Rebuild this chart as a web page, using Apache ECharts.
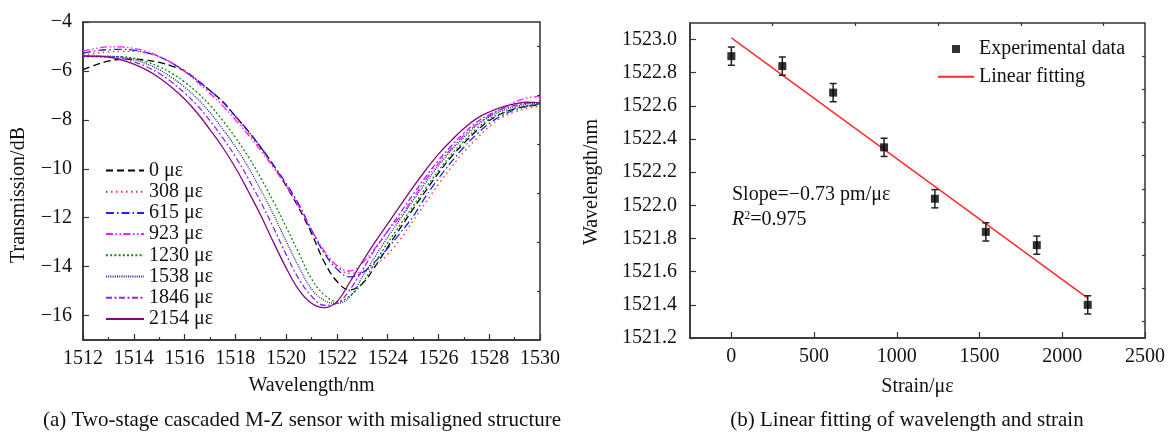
<!DOCTYPE html>
<html>
<head>
<meta charset="utf-8">
<script src="https://cdn.jsdelivr.net/npm/echarts@6/dist/echarts.min.js"></script>
<style>
html,body{margin:0;padding:0;background:#fff;}
#chart{width:1168px;height:434px;}
</style>
</head>
<body>
<div id="chart"></div>
<script>
// (a) transmission spectra, wavelength grid in nm
var wl = [1512,1512.5,1513,1513.5,1514,1514.5,1515,1515.5,1516,1516.5,1517,1517.5,1518,1518.5,1519,1519.5,1520,1520.5,1521,1521.5,1522,1522.5,1523,1523.5,1524,1524.5,1525,1525.5,1526,1526.5,1527,1527.5,1528,1528.5,1529,1529.5,1530];
var t0    = [-5.95,-5.75,-5.60,-5.53,-5.52,-5.56,-5.65,-5.80,-6.00,-6.38,-6.80,-7.25,-7.85,-8.45,-9.12,-9.85,-10.70,-11.60,-12.64,-13.80,-14.60,-14.95,-14.70,-14.00,-13.20,-12.42,-11.65,-10.90,-10.18,-9.52,-8.96,-8.45,-8.03,-7.74,-7.55,-7.44,-7.38];
var t308  = [-5.36,-5.27,-5.22,-5.20,-5.20,-5.27,-5.43,-5.68,-6.00,-6.38,-6.82,-7.30,-7.88,-8.50,-9.18,-9.90,-10.65,-11.50,-12.50,-13.40,-14.00,-14.28,-14.20,-13.95,-13.50,-12.88,-12.13,-11.38,-10.64,-9.95,-9.31,-8.77,-8.28,-7.90,-7.68,-7.52,-7.45];
var t615  = [-5.28,-5.18,-5.13,-5.12,-5.15,-5.25,-5.42,-5.68,-6.00,-6.38,-6.80,-7.25,-7.85,-8.45,-9.12,-9.85,-10.60,-11.45,-12.50,-13.45,-14.10,-14.42,-14.25,-13.80,-13.25,-12.62,-11.95,-11.13,-10.40,-9.73,-9.12,-8.60,-8.15,-7.82,-7.60,-7.44,-7.35];
var t923  = [-5.20,-5.08,-5.02,-5.02,-5.08,-5.20,-5.40,-5.67,-6.02,-6.45,-6.92,-7.42,-8.00,-8.60,-9.25,-9.95,-10.70,-11.55,-12.50,-13.35,-13.95,-14.18,-13.85,-13.25,-12.55,-11.95,-11.20,-10.45,-9.78,-9.18,-8.64,-8.18,-7.85,-7.55,-7.28,-7.10,-7.05];
var t1230 = [-5.42,-5.42,-5.42,-5.42,-5.48,-5.63,-5.83,-6.10,-6.45,-6.88,-7.40,-8.02,-8.72,-9.49,-10.37,-11.34,-12.38,-13.45,-14.50,-15.15,-15.43,-15.20,-14.68,-13.83,-13.03,-12.28,-11.53,-10.78,-10.08,-9.43,-8.87,-8.37,-7.97,-7.72,-7.53,-7.42,-7.38];
var t1538 = [-5.40,-5.40,-5.40,-5.44,-5.55,-5.71,-5.95,-6.27,-6.66,-7.13,-7.70,-8.37,-9.09,-9.92,-10.86,-11.86,-12.96,-14.00,-14.92,-15.38,-15.50,-15.25,-14.43,-13.60,-12.80,-12.05,-11.30,-10.57,-9.88,-9.26,-8.72,-8.24,-7.88,-7.63,-7.46,-7.36,-7.32];
var t1846 = [-5.40,-5.40,-5.42,-5.48,-5.63,-5.83,-6.10,-6.46,-6.90,-7.41,-8.03,-8.73,-9.50,-10.39,-11.36,-12.40,-13.50,-14.50,-15.20,-15.58,-15.50,-14.96,-14.15,-13.30,-12.55,-11.80,-11.05,-10.33,-9.66,-9.07,-8.55,-8.10,-7.79,-7.56,-7.41,-7.32,-7.30];
var t2154 = [-5.39,-5.40,-5.44,-5.55,-5.72,-5.96,-6.28,-6.68,-7.15,-7.72,-8.40,-9.12,-9.95,-10.90,-11.90,-13.00,-14.05,-14.95,-15.50,-15.68,-15.43,-14.65,-13.80,-13.00,-12.25,-11.50,-10.75,-10.05,-9.40,-8.85,-8.35,-7.95,-7.68,-7.48,-7.35,-7.28,-7.30];
var curveNames = ['0 \u03bc\u03b5','308 \u03bc\u03b5','615 \u03bc\u03b5','923 \u03bc\u03b5','1230 \u03bc\u03b5','1538 \u03bc\u03b5','1846 \u03bc\u03b5','2154 \u03bc\u03b5'];
var leftYLabels = [-16,-14,-12,-10,-8,-6,-4];
var leftYMinor = [-15,-13,-11,-9,-7,-5];

// (b) dip wavelength vs strain
var strain = [0,308,615,923,1230,1538,1846,2154];
var dipWl = [1522.90,1522.84,1522.68,1522.35,1522.04,1521.84,1521.76,1521.40];
var dipErr = [0.055,0.055,0.055,0.055,0.055,0.055,0.055,0.055];
var fitX = [0,2154];
var fitY = [1523.01,1521.44];
var rightXLabels = [0,500,1000,1500,2000,2500];
var rightXMinor = [250,750,1250,1750,2250];
var rightYLabels = [1521.2,1521.4,1521.6,1521.8,1522.0,1522.2,1522.4,1522.6,1522.8,1523.0];
var rightYMinor = [1521.3,1521.5,1521.7,1521.9,1522.1,1522.3,1522.5,1522.7,1522.9];

var FONT = "'Liberation Serif','Times New Roman',serif";
var INK = '#111';
var AX = '#333';

var curves = [t0,t308,t615,t923,t1230,t1538,t1846,t2154];
var colors = ['#000000','#ff2626','#1f1fff','#ff1aff','#0a8a0a','#1c1c99','#8a2be2','#800a80'];
var dashes = [[7,4],[1.5,3.5],[8,3,1.5,3],[7,2.5,1.5,2.5,1.5,2.5],[2,2.2],[1,1.2],[6,2.5,2,2.5],'solid'];

function minus(v){ return String(v).replace('-', '\u2212'); }
function plain(v){ return String(v); }

var chart = echarts.init(document.getElementById('chart'));

var series = [];
for (var k = 0; k < curves.length; k++) {
    series.push({
        name: curveNames[k],
        type: 'line',
        xAxisIndex: 0,
        yAxisIndex: 0,
        symbol: 'none',
        smooth: 0.4,
        lineStyle: {color: colors[k], width: 1.3, type: dashes[k]},
        itemStyle: {color: colors[k]},
        data: wl.map(function (x, i) { return [x, curves[k][i]]; })
    });
}
//误差棒
series.push({
    type: 'custom',
    xAxisIndex: 1,
    yAxisIndex: 2,
    renderItem: function (params, api) {
        var x = api.value(0), y = api.value(1), e = api.value(2);
        var top = api.coord([x, y + e]);
        var bot = api.coord([x, y - e]);
        var w = 3.5;
        var st = {stroke: '#222', lineWidth: 1.5};
        return {type: 'group', children: [
            {type: 'line', shape: {x1: top[0], y1: top[1], x2: bot[0], y2: bot[1]}, style: st},
            {type: 'line', shape: {x1: top[0] - w, y1: top[1], x2: top[0] + w, y2: top[1]}, style: st},
            {type: 'line', shape: {x1: bot[0] - w, y1: bot[1], x2: bot[0] + w, y2: bot[1]}, style: st}
        ]};
    },
    data: strain.map(function (s, i) { return [s, dipWl[i], dipErr[i]]; }),
    z: 3
});
series.push({
    name: 'Linear fitting',
    type: 'line',
    xAxisIndex: 1,
    yAxisIndex: 2,
    symbol: 'none',
    lineStyle: {color: '#ff2a2a', width: 1.5},
    itemStyle: {color: '#ff2a2a'},
    data: fitX.map(function (x, i) { return [x, fitY[i]]; }),
    z: 2
});
series.push({
    name: 'Experimental data',
    type: 'scatter',
    xAxisIndex: 1,
    yAxisIndex: 2,
    symbol: 'rect',
    symbolSize: 8,
    itemStyle: {color: '#000'},
    data: strain.map(function (s, i) { return [s, dipWl[i]]; }),
    z: 4
});

var tickStyle = {color: AX, width: 1.2};
var labelStyle = {color: INK, fontFamily: FONT, fontSize: 20};
var hidden = {opacity: 0};

var option = {
    animation: false,
    backgroundColor: '#fff',
    textStyle: {fontFamily: FONT},
    grid: [
        {left: 83, top: 22, width: 457, height: 318, show: true, borderColor: AX, borderWidth: 1.5},
        {left: 690, top: 23, width: 455, height: 315, show: true, borderColor: AX, borderWidth: 1.5}
    ],
    legend: [
        {
            data: curveNames.map(function (n) { return {name: n, itemStyle: hidden}; }),
            orient: 'vertical',
            left: 100,
            top: 155,
            itemWidth: 38,
            itemHeight: 12,
            itemGap: 0.2,
            itemStyle: hidden,
            textStyle: {color: INK, fontFamily: FONT, fontSize: 20, lineHeight: 21}
        },
        {
            data: [
                {name: 'Experimental data', icon: 'path://M0,0L10,0L10,10L0,10Z', itemStyle: {color: '#000'}},
                {name: 'Linear fitting', itemStyle: hidden}
            ],
            orient: 'vertical',
            left: 932,
            top: 33,
            itemWidth: 36,
            itemHeight: 8,
            itemGap: 5.7,
            symbolKeepAspect: true,
            textStyle: {color: INK, fontFamily: FONT, fontSize: 20, lineHeight: 22}
        }
    ],
    xAxis: [
        {
            gridIndex: 0, type: 'value', min: 1512, max: 1530, interval: 2,
            name: 'Wavelength/nm', nameLocation: 'middle', nameGap: 36,
            nameTextStyle: {color: INK, fontFamily: FONT, fontSize: 20},
            axisLine: {show: true, onZero: false, lineStyle: {color: AX, width: 1.5}},
            axisTick: {inside: true, length: 6, lineStyle: tickStyle},
            minorTick: {show: true, splitNumber: 2, length: 3, lineStyle: tickStyle},
            axisLabel: Object.assign({margin: 9, formatter: plain}, labelStyle),
            splitLine: {show: false}
        },
        {
            gridIndex: 1, type: 'value', min: -250, max: 2500,
            name: 'Strain/\u03bc\u03b5', nameLocation: 'middle', nameGap: 39,
            nameTextStyle: {color: INK, fontFamily: FONT, fontSize: 20},
            axisLine: {show: true, onZero: false, lineStyle: {color: AX, width: 1.5}},
            axisTick: {inside: true, length: 6, lineStyle: tickStyle, customValues: rightXLabels},
            axisLabel: Object.assign({margin: 9, customValues: rightXLabels, formatter: plain}, labelStyle),
            splitLine: {show: false}
        },
        {
            gridIndex: 1, type: 'value', min: -250, max: 2500,
            axisLine: {show: false, onZero: false},
            axisTick: {inside: true, length: 3, lineStyle: tickStyle, customValues: rightXMinor},
            axisLabel: {show: false},
            splitLine: {show: false}
        }
    ],
    yAxis: [
        {
            gridIndex: 0, type: 'value', min: -17, max: -4,
            axisLine: {show: true, onZero: false, lineStyle: {color: AX, width: 1.5}},
            axisTick: {inside: true, length: 6, lineStyle: tickStyle, customValues: leftYLabels},
            axisLabel: Object.assign({margin: 11, customValues: leftYLabels, formatter: minus}, labelStyle),
            splitLine: {show: false}
        },
        {
            gridIndex: 0, type: 'value', min: -17, max: -4,
            axisLine: {show: false, onZero: false},
            axisTick: {inside: true, length: 3, lineStyle: tickStyle, customValues: leftYMinor},
            axisLabel: {show: false},
            splitLine: {show: false}
        },
        {
            gridIndex: 1, type: 'value', min: 1521.2, max: 1523.1,
            axisLine: {show: true, onZero: false, lineStyle: {color: AX, width: 1.5}},
            axisTick: {inside: true, length: 6, lineStyle: tickStyle, customValues: rightYLabels},
            axisLabel: Object.assign({margin: 13, customValues: rightYLabels,
                formatter: function (v) { return v.toFixed(1); }}, labelStyle),
            splitLine: {show: false}
        },
        {
            gridIndex: 1, type: 'value', min: 1521.2, max: 1523.1,
            axisLine: {show: false, onZero: false},
            axisTick: {inside: true, length: 3, lineStyle: tickStyle, customValues: rightYMinor},
            axisLabel: {show: false},
            splitLine: {show: false}
        }
    ],
    graphic: [
        {type: 'text', x: 19, y: 195, rotation: Math.PI / 2,
            style: {text: 'Transmission/dB', align: 'center', verticalAlign: 'middle', fill: INK, font: '20px ' + FONT}},
        {type: 'text', x: 592, y: 182, rotation: Math.PI / 2,
            style: {text: 'Wavelength/nm', align: 'center', verticalAlign: 'middle', fill: INK, font: '20px ' + FONT}},
        {type: 'text', x: 302, y: 420,
            style: {text: '(a) Two-stage cascaded M-Z sensor with misaligned structure', align: 'center', verticalAlign: 'middle', fill: INK, font: '21px ' + FONT}},
        {type: 'text', x: 907, y: 420,
            style: {text: '(b) Linear fitting of wavelength and strain', align: 'center', verticalAlign: 'middle', fill: INK, font: '21px ' + FONT}},
        {type: 'text', x: 732, y: 195,
            style: {text: 'Slope=\u22120.73 pm/\u03bc\u03b5', align: 'left', verticalAlign: 'middle', fill: INK, font: '20px ' + FONT}},
        {type: 'text', x: 732, y: 220,
            style: {text: '{i|R}{s|2}{n|=0.975}', align: 'left', verticalAlign: 'middle', fill: INK, font: '20px ' + FONT,
                rich: {
                    i: {fontStyle: 'italic', fontSize: 20, fontFamily: FONT, fill: INK},
                    s: {fontSize: 12, fontFamily: FONT, fill: INK, verticalAlign: 'top', padding: [0, 0, 8, 0]},
                    n: {fontSize: 20, fontFamily: FONT, fill: INK}
                }}}
    ],
    series: series
};
chart.setOption(option);
</script>
</body>
</html>
